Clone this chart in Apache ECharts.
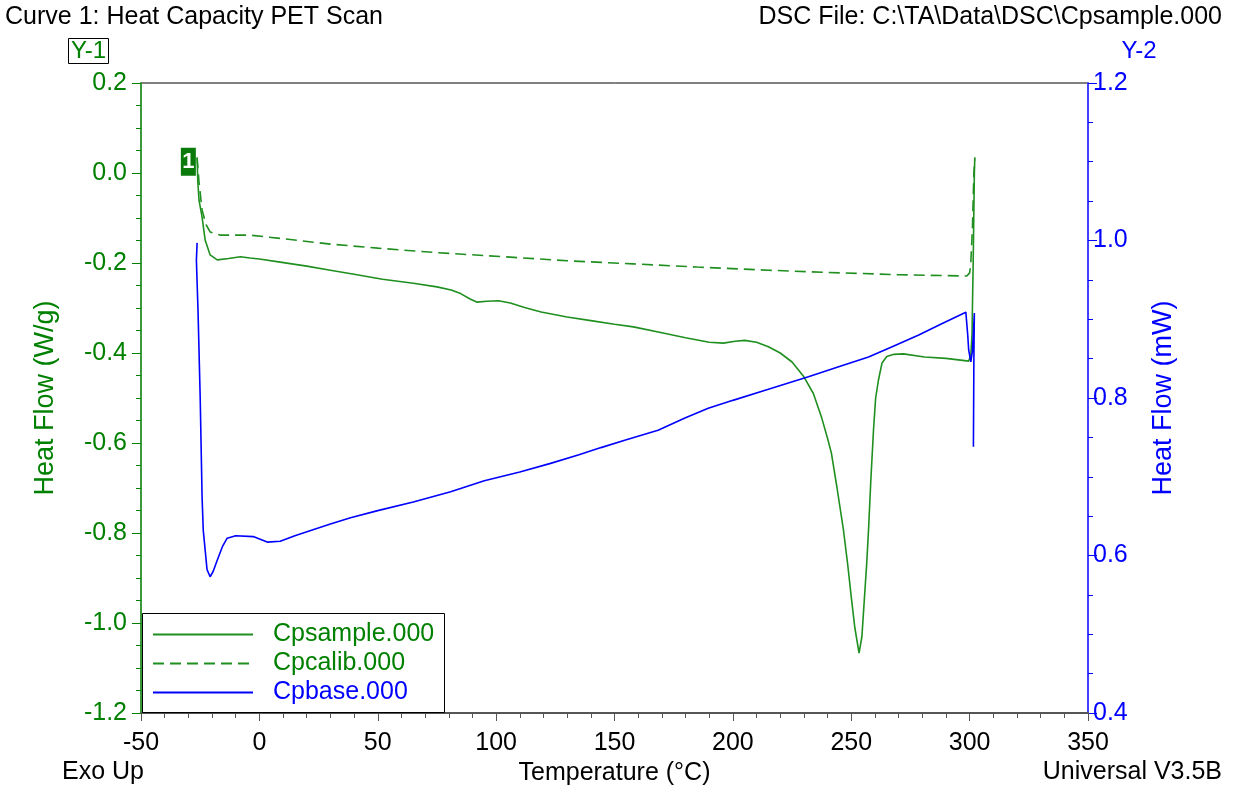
<!DOCTYPE html>
<html>
<head>
<meta charset="utf-8">
<script src="https://cdn.jsdelivr.net/npm/echarts@6/dist/echarts.min.js"></script>
<style>html,body{margin:0;padding:0;background:#fff;}#c{width:1233px;height:785px;}</style>
</head>
<body>
<div id="c"></div>
<script>
// ---- data (temperature °C, heat flow) ----
const sampleT = [-26.3,-26.0,-25.5,-24.2,-22.9,-20.8,-17.8,-13,-8,-4,0,8.8,20,30,40,52,65,75,81,85,89,92,96,101,106,112,119,130,140,150,158,170,180,190,196,201,205,210,215,220,225,230,234,237.4,240,241.6,244,246.7,248.5,250,251.5,253.3,254.5,255.6,256.5,257.3,258.3,259.4,260.3,261.5,263,265,268,272,281,290,299.6,300.5,301,301.5,302,302.2];
const sampleY = [0.033,-0.02,-0.06,-0.098,-0.149,-0.182,-0.193,-0.19,-0.186,-0.189,-0.191,-0.198,-0.207,-0.216,-0.225,-0.236,-0.245,-0.253,-0.260,-0.268,-0.280,-0.287,-0.285,-0.284,-0.289,-0.299,-0.309,-0.320,-0.328,-0.336,-0.342,-0.355,-0.366,-0.376,-0.378,-0.374,-0.372,-0.376,-0.386,-0.400,-0.420,-0.453,-0.49,-0.542,-0.59,-0.622,-0.70,-0.793,-0.87,-0.942,-1.01,-1.067,-1.03,-0.942,-0.87,-0.793,-0.68,-0.571,-0.50,-0.46,-0.422,-0.408,-0.403,-0.402,-0.409,-0.412,-0.418,-0.405,-0.36,-0.2,0.0,0.035];

const calibT = [-26.3,-25.5,-24.2,-22.5,-20.8,-16.6,-4,10,30,50,75,106,130,158,185,215,240,270,298.8,300,300.5,301.2,301.8,302.2];
const calibY = [0.035,-0.02,-0.082,-0.115,-0.131,-0.138,-0.138,-0.146,-0.158,-0.167,-0.177,-0.187,-0.195,-0.202,-0.209,-0.216,-0.221,-0.226,-0.229,-0.222,-0.2,-0.12,0.0,0.03];

const baseT = [-26.3,-26.6,-25.9,-25.0,-24.2,-23.7,-22.1,-20.8,-19.5,-17.8,-15.5,-13.6,-10,-2.6,3.3,8.8,15,22,30,38.5,50,65,80.8,95,110,123,135,144.3,155,168.4,180,189.6,200,215,231.9,245,257.3,268,278.5,288,298.4,299.2,299.6,300.5,301.2,302.0,301.8,301.6];
const baseY = [0.997,0.975,0.909,0.801,0.674,0.632,0.582,0.573,0.58,0.594,0.612,0.622,0.625,0.624,0.617,0.618,0.625,0.632,0.640,0.648,0.657,0.668,0.681,0.695,0.706,0.717,0.728,0.737,0.747,0.759,0.775,0.787,0.797,0.811,0.827,0.840,0.852,0.866,0.880,0.894,0.909,0.88,0.861,0.846,0.86,0.908,0.85,0.738];

const seriesNames = ['Cpsample.000','Cpcalib.000','Cpbase.000'];
const xTicks = {min:-50, max:350, interval:50};
const y1Ticks = {min:-1.2, max:0.2, interval:0.2};
const y2Ticks = {min:0.4, max:1.2, interval:0.2};

const zip = (a,b) => a.map((v,i)=>[v,b[i]]);
const GREEN = '#008000', GLINE = '#1f8f1f', BLUE = '#0000ff';
const FONT = 'Liberation Sans';
const FS = 25;

const chart = echarts.init(document.getElementById('c'), null, {renderer:'canvas'});
chart.setOption({
  animation:false,
  backgroundColor:'#fff',
  textStyle:{fontFamily:FONT},
  grid:{left:141, right:145, top:83, bottom:72, containLabel:false, outerBoundsMode:'none',
        show:true, borderColor:'#000', borderWidth:1, backgroundColor:'transparent'},
  xAxis:{
    type:'value', min:xTicks.min, max:xTicks.max, interval:xTicks.interval,
    name:'Temperature (°C)', nameLocation:'middle', nameGap:47,
    nameTextStyle:{color:'#000', fontSize:FS, fontFamily:FONT},
    axisLine:{onZero:false, lineStyle:{color:'#555', width:2}},
    axisTick:{show:true, length:8, lineStyle:{color:'#555'}},
    minorTick:{show:true, splitNumber:5, length:5, lineStyle:{color:'#555'}},
    splitLine:{show:false},
    axisLabel:{color:'#000', fontSize:FS, margin:18, fontFamily:FONT}
  },
  yAxis:[{
    type:'value', min:y1Ticks.min, max:y1Ticks.max, interval:y1Ticks.interval, position:'left',
    name:'Heat Flow (W/g)', nameLocation:'middle', nameGap:82, nameRotate:90,
    nameTextStyle:{color:GREEN, fontSize:27, fontFamily:FONT},
    axisLine:{show:true, onZero:false, lineStyle:{color:'#3a9a3a', width:2}},
    axisTick:{show:true, length:9, lineStyle:{color:GREEN}},
    minorTick:{show:true, splitNumber:4, length:5, lineStyle:{color:GREEN}},
    splitLine:{show:false},
    axisLabel:{color:GREEN, fontSize:FS, margin:14, fontFamily:FONT, formatter:v=>v.toFixed(1)}
  },{
    type:'value', min:y2Ticks.min, max:y2Ticks.max, interval:y2Ticks.interval, position:'right',
    name:'Heat Flow (mW)', nameLocation:'middle', nameGap:62, nameRotate:90,
    nameTextStyle:{color:BLUE, fontSize:27, fontFamily:FONT},
    axisLine:{show:true, onZero:false, lineStyle:{color:'#4040ff', width:2}},
    axisTick:{show:true, length:9, lineStyle:{color:BLUE}},
    minorTick:{show:true, splitNumber:4, length:5, lineStyle:{color:BLUE}},
    splitLine:{show:false},
    axisLabel:{color:BLUE, fontSize:FS, margin:5, fontFamily:FONT, formatter:v=>v.toFixed(1)}
  }],
  legend:{
    orient:'vertical', left:152, top:622, padding:0, itemGap:4,
    itemWidth:100, itemHeight:14,
    itemStyle:{opacity:0},
    textStyle:{fontSize:FS, fontFamily:FONT, lineHeight:25, padding:[0,0,0,15]},
    data:[
      {name:seriesNames[0], textStyle:{color:GREEN}},
      {name:seriesNames[1], textStyle:{color:GREEN}},
      {name:seriesNames[2], textStyle:{color:BLUE}}
    ]
  },
  series:[
    {name:seriesNames[0], type:'line', yAxisIndex:0, data:zip(sampleT,sampleY), showSymbol:false, symbol:'none',
     lineStyle:{color:GLINE, width:1.6}, itemStyle:{color:GLINE, opacity:0}, z:2,
     markPoint:{symbol:'rect', symbolSize:[15,28], silent:true,
       itemStyle:{color:'#0a7a0a', opacity:1},
       label:{show:true, position:'inside', formatter:'1', color:'#fff', fontSize:22, fontWeight:'bold', fontFamily:FONT},
       data:[{coord:[-30,0.025]}]}},
    {name:seriesNames[1], type:'line', yAxisIndex:0, data:zip(calibT,calibY), showSymbol:false, symbol:'none',
     lineStyle:{color:GLINE, width:1.6, type:[11,6]}, itemStyle:{color:GLINE, opacity:0}, z:2},
    {name:seriesNames[2], type:'line', yAxisIndex:1, data:zip(baseT,baseY), showSymbol:false, symbol:'none',
     lineStyle:{color:BLUE, width:1.6}, itemStyle:{color:BLUE, opacity:0}, z:2}
  ],
  graphic:[
    {type:'rect', z:3, shape:{x:142.5, y:613.5, width:302, height:99}, style:{fill:'#fff', stroke:'#000', lineWidth:1}},
    {type:'text', left:5, top:5, style:{text:'Curve 1: Heat Capacity PET Scan', fill:'#000', font:FS+'px '+FONT}},
    {type:'text', right:11, top:5, style:{text:'DSC File: C:\\TA\\Data\\DSC\\Cpsample.000', fill:'#000', font:FS+'px '+FONT}},
    {type:'rect', shape:{x:68.5, y:38.5, width:40, height:25}, style:{fill:'none', stroke:'#000', lineWidth:1}},
    {type:'text', x:88.5, y:51, style:{text:'Y-1', fill:GREEN, font:'24px '+FONT, align:'center', verticalAlign:'middle'}},
    {type:'text', x:1139, y:51, style:{text:'Y-2', fill:BLUE, font:'24px '+FONT, align:'center', verticalAlign:'middle'}},
    {type:'text', x:62, y:772, style:{text:'Exo Up', fill:'#000', font:FS+'px '+FONT, verticalAlign:'middle'}},
    {type:'text', x:1222, y:772, style:{text:'Universal V3.5B', fill:'#000', font:FS+'px '+FONT, align:'right', verticalAlign:'middle'}}
  ]
});
</script>
</body>
</html>
